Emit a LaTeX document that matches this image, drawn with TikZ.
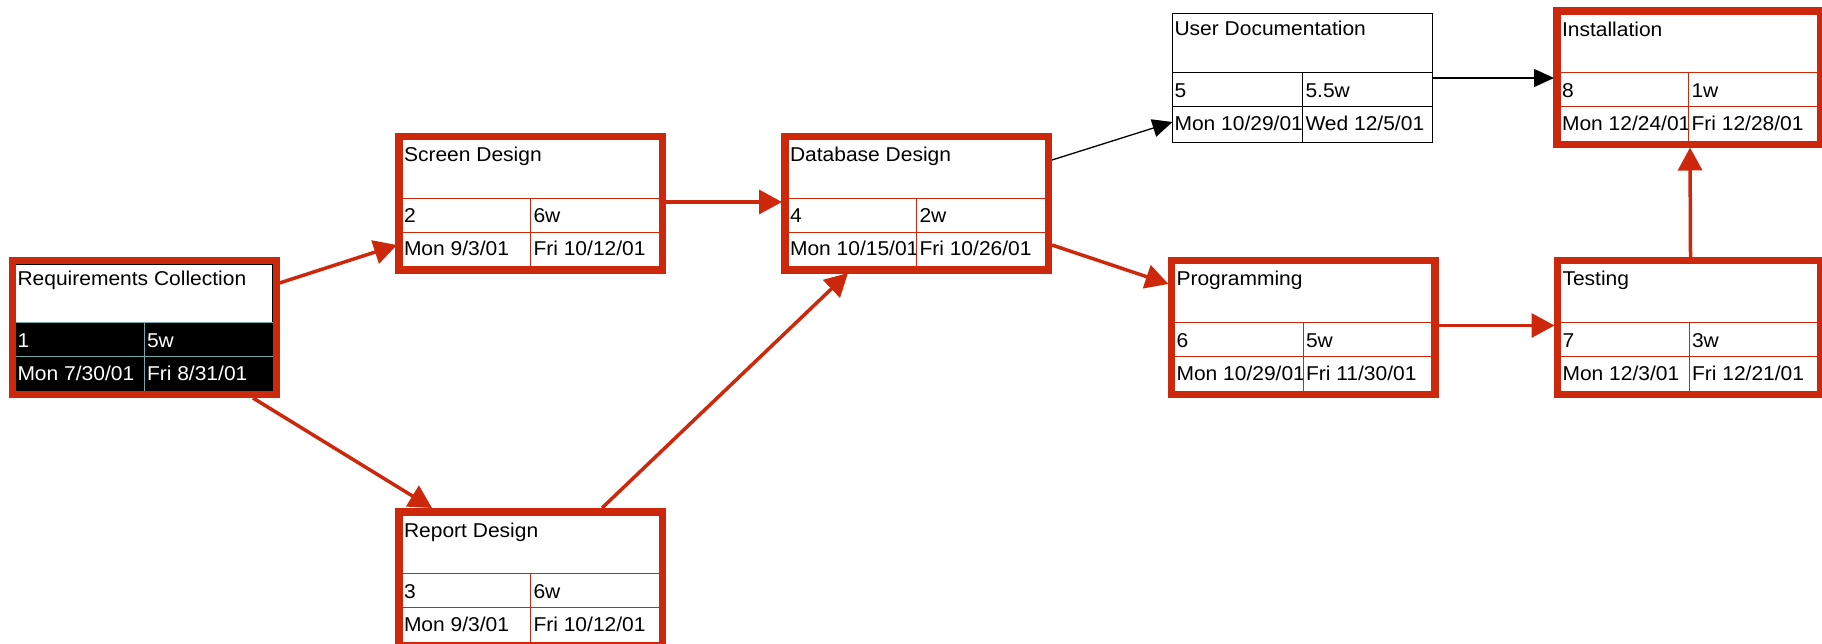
\documentclass[tikz,border=0pt]{standalone}
\usepackage{fontspec}
\setmainfont{Liberation Sans}[FakeStretch=1.05]
\usetikzlibrary{arrows.meta,positioning}

\definecolor{critred}{RGB}{206,40,12}
\definecolor{startline}{RGB}{112,168,168}

\tikzstyle{every node}+=[inner sep=0pt,outer sep=0pt,font=\fontsize{20}{24}\selectfont]

% box kinds: crit (red), norm (black), start (red frame, black rows)
\tikzstyle{critbox}=[rectangle,draw=critred,line width=1pt,minimum width=257pt,minimum height=127pt]
\tikzstyle{normbox}=[rectangle,draw=black,line width=1pt,minimum width=260pt,minimum height=129pt]
\tikzstyle{startbox}=[rectangle,draw=black,fill=black,line width=1pt,minimum width=257pt,minimum height=127pt]
\tikzstyle{crittitle}=[]
\tikzstyle{normtitle}=[]
\tikzstyle{starttitle}=[fill=white,draw=black,line width=1.5pt]
\tikzstyle{critgrid}=[draw=critred,line width=1pt]
\tikzstyle{normgrid}=[draw=black,line width=1pt]
\tikzstyle{startgrid}=[draw=startline,line width=1pt]
\tikzstyle{critframe}=[draw=critred,line width=7pt]
\tikzstyle{normframe}=[]
\tikzstyle{startframe}=[draw=critred,line width=7pt]
\tikzstyle{critcell}=[anchor=base west]
\tikzstyle{normcell}=[anchor=base west]
\tikzstyle{startcell}=[anchor=base west,text=white]
\tikzstyle{critedge}=[draw=critred,line width=3.5pt,-{Triangle[length=23pt,width=24pt]}]
\tikzstyle{normedge}=[draw=black,line width=1.3pt,-{Triangle[length=20pt,width=18pt]}]

% [kind]{name}{place}{title}{id}{duration}{start}{finish}
\newcommand{\pertbox}[8][crit]{%
  \node[#1box,#3] (#2) {};
  \path[#1title] (#2.north west) rectangle ([yshift=5pt]#2.east);
  \draw[#1grid] ([yshift=5pt]#2.west) -- ([yshift=5pt]#2.east)
    ([yshift=-29pt]#2.west) -- ([yshift=-29pt]#2.east)
    ([yshift=5pt]#2.center) -- (#2.south);
  \path[#1frame] ([shift={(-3.5pt,3.5pt)}]#2.north west) rectangle ([shift={(3.5pt,-3.5pt)}]#2.south east);
  \node[anchor=base west] (#2-name) at ([xshift=2pt,yshift=-22pt]#2.north west) {#4};
  \node[#1cell] (#2-id) at ([xshift=2pt,yshift=-19.5pt]#2.west) {#5};
  \node[#1cell] (#2-dur) at ([xshift=3pt,yshift=-19.5pt]#2.center) {#6};
  \begin{scope}
    \clip (#2.south west) rectangle ([xshift=-1pt,yshift=-29pt]#2.center);
    \node[#1cell] (#2-start) at ([xshift=2pt,yshift=-52.5pt]#2.west) {#7};
  \end{scope}
  \node[#1cell] (#2-finish) at ([xshift=3pt,yshift=-52.5pt]#2.center) {#8};
}

\begin{document}
\begin{tikzpicture}[x=1pt,y=-1pt,node distance=386pt]

\useasboundingbox (0,0) rectangle (1822,644);

\pertbox[start]{req}{at={(144,327.5)}}{Requirements Collection}{1}{5w}{Mon 7/30/01}{Fri 8/31/01}
\pertbox{screen}{at={(530.5,203.5)}}{Screen Design}{2}{6w}{Mon 9/3/01}{Fri 10/12/01}
\pertbox{report}{below of=screen,node distance=375pt}{Report Design}{3}{6w}{Mon 9/3/01}{Fri 10/12/01}
\pertbox{db}{right of=screen}{Database Design}{4}{2w}{Mon 10/15/01}{Fri 10/26/01}
\pertbox[norm]{userdoc}{at={(1302.5,78)}}{User Documentation}{5}{5.5w}{Mon 10/29/01}{Wed 12/5/01}
\pertbox{prog}{at={(1303,327.5)}}{Programming}{6}{5w}{Mon 10/29/01}{Fri 11/30/01}
\pertbox{testing}{right of=prog}{Testing}{7}{3w}{Mon 12/3/01}{Fri 12/21/01}
\pertbox{install}{right of=userdoc}{Installation}{8}{1w}{Mon 12/24/01}{Fri 12/28/01}

\draw[critedge] ([xshift=7pt,yshift=44.5pt]req.east) -- ([xshift=-5pt,yshift=-41.5pt]screen.west);
\draw[critedge] ([xshift=109pt,yshift=-7pt]req.south) -- ([xshift=-98.5pt,yshift=7pt]report.north);
\draw[critedge] ([xshift=7pt,yshift=1.5pt]screen.east) -- ([xshift=-6pt,yshift=1.5pt]db.west);
\draw[critedge] ([xshift=71.5pt,yshift=7pt]report.north) -- ([xshift=-68.5pt,yshift=-6pt]db.south);
\draw[normedge] ([xshift=7pt,yshift=43.5pt]db.east) -- ([yshift=-44pt]userdoc.west);
\draw[critedge] ([xshift=7pt,yshift=-41.5pt]db.east) -- ([xshift=-6pt,yshift=43.5pt]prog.west);
\draw[normedge] (userdoc.east) -- ([xshift=-6pt]install.west);
\draw[critedge] ([xshift=7pt,yshift=2pt]prog.east) -- ([xshift=-6pt,yshift=2pt]testing.west);
\draw[critedge] ([xshift=1.5pt,yshift=7pt]testing.north) -- ([xshift=1.5pt,yshift=-6pt]install.south);

\end{tikzpicture}
\end{document}
